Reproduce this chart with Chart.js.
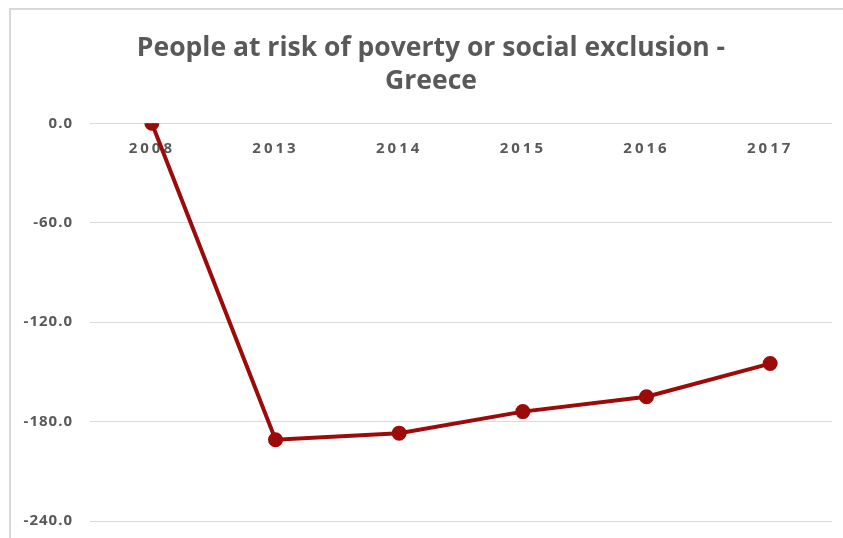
<!DOCTYPE html>
<html>
<head>
<meta charset="utf-8">
<script src="https://cdn.jsdelivr.net/npm/chart.js@4.4.0/dist/chart.umd.min.js"></script>
<style>
  html, body { margin: 0; padding: 0; background: #ffffff; }
  #wrap { position: relative; width: 843px; height: 538px; overflow: hidden; }
  #frame { position: absolute; left: 9px; top: 8px; width: 900px; height: 600px;
           border-left: 2px solid #d9d9d9; border-top: 2px solid #d9d9d9; box-sizing: border-box; pointer-events: none; }
  canvas { position: absolute; left: 0; top: 0; }
</style>
</head>
<body>
<div id="wrap">
  <canvas id="c" width="843" height="538"></canvas>
  <div id="frame"></div>
</div>
<script>
const titleLines = ['People at risk of poverty or social exclusion -', 'Greece'];
const years = ['2008', '2013', '2014', '2015', '2016', '2017'];
const change = [0, -191, -187, -174, -165, -145];
const yTicks = [0, -60, -120, -180, -240];

function withSpacing(chart, scale, px) {
  const orig = scale.drawLabels.bind(scale);
  scale.drawLabels = function (area) {
    const ctx = chart.ctx;
    ctx.save();
    ctx.letterSpacing = px;
    orig(area);
    ctx.restore();
  };
}

const labelPlugin = {
  id: 'labelTweaks',
  afterLayout(chart) {
    const x = chart.scales.x, y = chart.scales.y;
    if (!x._patched) { withSpacing(chart, x, '3px'); x._patched = true; }
    if (!y._patched) { withSpacing(chart, y, '1px'); y._patched = true; }
    y._computeLabelArea = () => undefined;
  }
};

const chart = new Chart(document.getElementById('c'), {
  type: 'line',
  data: {
    labels: years,
    datasets: [{
      data: change,
      borderColor: '#9c0a0a',
      backgroundColor: '#9c0a0a',
      borderWidth: 4,
      pointRadius: 5.5,
      pointHoverRadius: 5.5,
      pointBackgroundColor: '#9c0a0a',
      pointBorderColor: '#9c0a0a',
      tension: 0,
      fill: false
    }]
  },
  options: {
    responsive: false,
    animation: false,
    devicePixelRatio: 1,
    layout: { padding: { left: 30, right: 11, top: 24, bottom: 17 } },
    plugins: {
      legend: { display: false },
      tooltip: { enabled: false },
      title: {
        display: true,
        text: titleLines,
        color: '#595959',
        font: { family: 'Open Sans', size: 26.5, weight: 'bold', lineHeight: 1.25 },
        padding: { top: 8, bottom: 25 }
      }
    },
    scales: {
      x: {
        type: 'category',
        position: { y: 0 },
        offset: true,
        afterFit(scale) { scale.height = 0; },
        grid: { display: false, drawTicks: false },
        border: { display: false },
        ticks: {
          color: '#595959',
          font: { family: 'Open Sans', size: 15, weight: 'bold' },
          padding: 16,
          maxRotation: 0
        }
      },
      y: {
        min: -240,
        max: 0,
        afterBuildTicks(scale) { scale.ticks = yTicks.map(v => ({ value: v })); },
        afterFit(scale) { scale.width = 60; scale.paddingTop = 0; scale.paddingBottom = 0; },
        grid: { color: '#d9d9d9', lineWidth: 1, drawTicks: false },
        border: { display: false },
        ticks: {
          color: '#595959',
          font: { family: 'Open Sans', size: 15, weight: 'bold' },
          padding: 17,
          callback: v => Number(v).toFixed(1)
        }
      }
    }
  },
  plugins: [labelPlugin]
});
</script>
</body>
</html>
